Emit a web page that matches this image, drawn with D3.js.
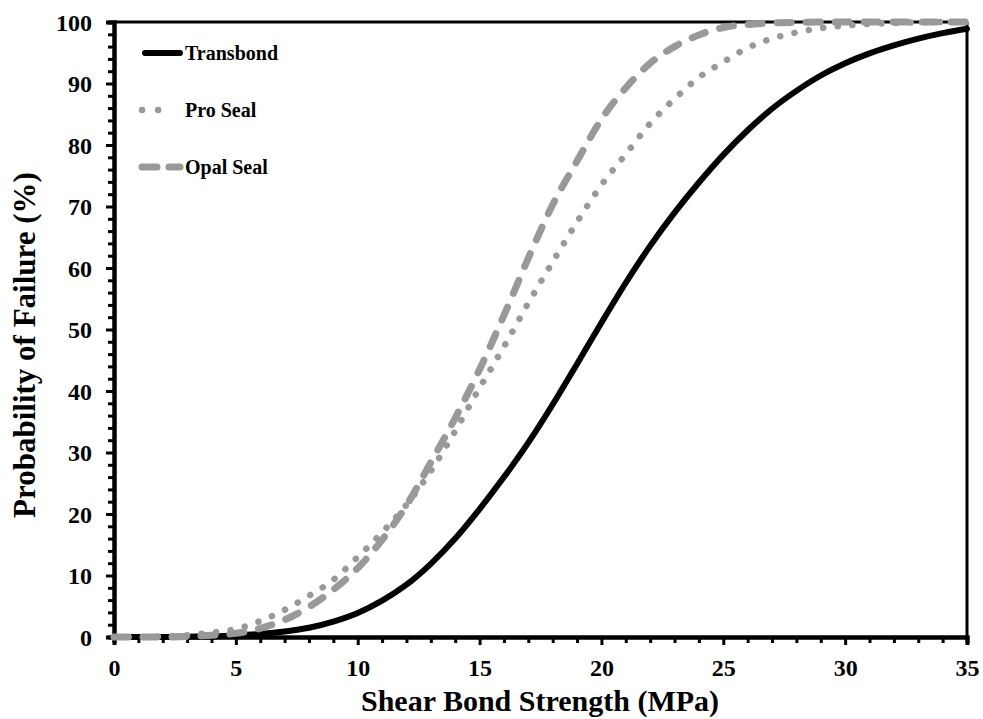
<!DOCTYPE html>
<html>
<head>
<meta charset="utf-8">
<script src="https://cdn.jsdelivr.net/npm/d3@7"></script>
<style>
  html, body { margin: 0; padding: 0; background: #fff; }
  svg { display: block; font-family: "Liberation Serif", "Times New Roman", serif; font-weight: bold; }
</style>
</head>
<body>
<svg id="chart" width="983" height="719"></svg>
<script>
// ---- data ----
const strength = [0,1,2,3,4,5,6,7,8,9,10,11,12,13,14,15,16,17,18,19,20,21,22,23,24,25,26,27,28,29,30,31,32,33,34,35];
const transbond = [0,0,0,0.05,0.1,0.25,0.5,0.9,1.5,2.5,3.9,5.9,8.5,11.9,16.0,20.8,26.0,31.6,37.8,44.4,51.1,57.6,63.6,69.0,73.9,78.4,82.4,85.9,88.8,91.3,93.3,94.9,96.2,97.3,98.2,98.9];
const proSeal = [0,0,0.1,0.3,0.7,1.3,2.6,4.4,6.7,9.3,13,17,21.5,27,33.5,40.5,47.2,54.3,61,67.5,73.5,78.5,83.5,87.5,91,93.5,95.8,97.3,98.3,99,99.4,99.7,99.85,99.95,100,100];
const opalSeal = [0,0,0,0.1,0.3,0.6,1.4,2.8,4.9,7.7,11.2,15.8,21.4,28.4,35.6,43.5,52.3,61.6,70.3,77.4,84.2,89.3,93.3,96,97.9,99.1,99.6,99.85,99.95,100,100,100,100,100,100,100];
const seriesNames = ["Transbond", "Pro Seal", "Opal Seal"];
const xMajorTicks = [0,5,10,15,20,25,30,35];
const yMajorTicks = [0,10,20,30,40,50,60,70,80,90,100];
const xTitle = "Shear Bond Strength (MPa)";
const yTitle = "Probability of Failure (%)";

// ---- layout ----
const svg = d3.select("#chart");
const L = 114, R = 967, T = 22, B = 637;
const x = d3.scaleLinear().domain([0, 35]).range([L, R]);
const y = d3.scaleLinear().domain([0, 100]).range([B, T]);

const gray = "#999999";
const styles = [
  { stroke: "#000", width: 6, dash: null },
  { stroke: gray, width: 6.5, dash: "0.1 14.5" },
  { stroke: gray, width: 7, dash: "14 15" }
];

// frame (top / right)
svg.append("line").attr("x1", L).attr("x2", R).attr("y1", T).attr("y2", T)
  .attr("stroke", "#000").attr("stroke-width", 3);
svg.append("line").attr("x1", R).attr("x2", R).attr("y1", T).attr("y2", B)
  .attr("stroke", "#000").attr("stroke-width", 3);

// minor ticks
const xMinor = d3.range(0, 36, 1).filter(v => v % 5 !== 0);
const yMinor = d3.range(0, 101, 2).filter(v => v % 10 !== 0);

const xAxisMinor = svg.append("g").attr("transform", `translate(0,${B})`)
  .call(d3.axisBottom(x).tickValues(xMinor).tickSize(6).tickFormat(""));
const yAxisMinor = svg.append("g").attr("transform", `translate(${L},0)`)
  .call(d3.axisLeft(y).tickValues(yMinor).tickSize(6).tickFormat(""));

const xAxis = svg.append("g").attr("transform", `translate(0,${B})`)
  .call(d3.axisBottom(x).tickValues(xMajorTicks).tickSize(8).tickPadding(14).tickFormat(d3.format("d")));
const yAxis = svg.append("g").attr("transform", `translate(${L},0)`)
  .call(d3.axisLeft(y).tickValues(yMajorTicks).tickSize(8).tickPadding(14).tickFormat(d3.format("d")));

[xAxisMinor, yAxisMinor, xAxis, yAxis].forEach(g => {
  g.select(".domain").attr("stroke", "#000").attr("stroke-width", 4);
  g.selectAll(".tick line").attr("stroke", "#000").attr("stroke-width", 3);
  g.selectAll("text").attr("fill", "#000")
    .style("font-family", "'Liberation Serif', serif").style("font-weight", "bold").style("font-size", "24px");
});
xAxis.selectAll("text").attr("dy", "0.71em");
yAxis.selectAll("text").attr("dy", "0.34em");

// curves
const data = [transbond, proSeal, opalSeal];
const line = d3.line()
  .x((d, i) => x(strength[i]))
  .y(d => y(d))
  .curve(d3.curveMonotoneX);

data.forEach((vals, k) => {
  const p = svg.append("path")
    .datum(vals)
    .attr("d", line)
    .attr("fill", "none")
    .attr("stroke", styles[k].stroke)
    .attr("stroke-width", styles[k].width)
    .attr("stroke-linecap", "round")
    .attr("stroke-linejoin", "round");
  if (styles[k].dash) p.attr("stroke-dasharray", styles[k].dash);
});

// legend
const legendY = [53, 110, 167];
const lg = svg.append("g");
seriesNames.forEach((name, k) => {
  const s = styles[k];
  const l = lg.append("line")
    .attr("x1", k === 0 ? 145 : 142).attr("x2", k === 2 ? 180 : (k === 1 ? 174 : 180))
    .attr("y1", legendY[k]).attr("y2", legendY[k])
    .attr("stroke", s.stroke).attr("stroke-width", s.width)
    .attr("stroke-linecap", "round");
  if (k === 1) l.attr("stroke-dasharray", "0.1 16");
  if (k === 2) l.attr("stroke-dasharray", "15 12");
  lg.append("text").attr("x", 185).attr("y", legendY[k] + 6.5)
    .attr("font-size", 20).attr("fill", "#000").text(name);
});

// axis titles
svg.append("text").attr("x", 540).attr("y", 711).attr("text-anchor", "middle")
  .attr("font-size", 30).attr("fill", "#000").text(xTitle);
svg.append("text").attr("transform", "translate(35,345) rotate(-90)")
  .attr("text-anchor", "middle").attr("font-size", 31).attr("fill", "#000").text(yTitle);
</script>
</body>
</html>
